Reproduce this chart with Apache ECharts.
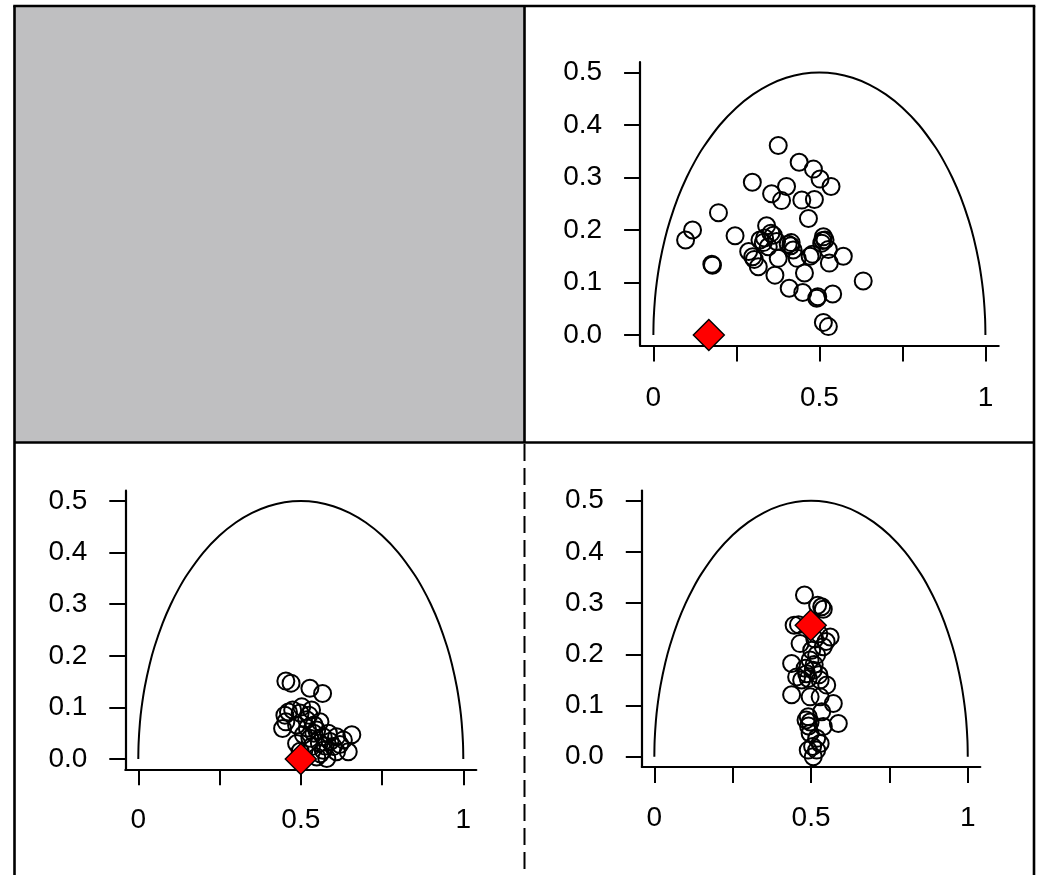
<!DOCTYPE html>
<html>
<head>
<meta charset="utf-8">
<script src="https://cdn.jsdelivr.net/npm/echarts@6/dist/echarts.min.js"></script>
<style>
html,body{margin:0;padding:0;background:#fff;}
#chart{width:1040px;height:875px;}
</style>
</head>
<body>
<div id="chart"></div>
<script>
// ---- tick values / labels ----
const xTickValues = [0, 0.25, 0.5, 0.75, 1];
const xLabelValues = [0, 0.5, 1];
const yTickValues = [0, 0.1, 0.2, 0.3, 0.4, 0.5];

// ---- boundary curve ----
const curveX = [0, 0.001, 0.005, 0.01, 0.02, 0.035, 0.05, 0.075, 0.1, 0.125, 0.15, 0.2, 0.25, 0.3, 0.35, 0.4, 0.45, 0.5,
                0.55, 0.6, 0.65, 0.7, 0.75, 0.8, 0.85, 0.875, 0.9, 0.925, 0.95, 0.965, 0.98, 0.99, 0.995, 0.999, 1];
const curveY = [0, 0.0316, 0.0705, 0.0995, 0.14, 0.1838, 0.2179, 0.2634, 0.3, 0.3307, 0.3571, 0.4, 0.433, 0.4583, 0.477, 0.4899, 0.4975, 0.5,
                0.4975, 0.4899, 0.477, 0.4583, 0.433, 0.4, 0.3571, 0.3307, 0.3, 0.2634, 0.2179, 0.1838, 0.14, 0.0995, 0.0705, 0.0316, 0];

// ---- top-right panel ----
const topRightX = [0.376,0.439,0.482,0.502,0.535,0.298,0.401,0.356,0.386,0.447,0.485,0.467,0.196,0.118,0.097,0.246,0.176,0.178,
  0.341,0.354,0.361,0.321,0.331,0.346,0.287,0.299,0.304,0.316,0.376,0.366,0.406,0.414,0.421,0.433,0.409,0.450,0.455,0.472,0.479,
  0.492,0.495,0.512,0.510,0.507,0.517,0.527,0.530,0.540,0.572,0.632,0.512,0.527,0.335,0.371,0.415];
const topRightY = [0.361,0.329,0.316,0.297,0.283,0.291,0.283,0.269,0.256,0.257,0.258,0.222,0.233,0.200,0.181,0.189,0.135,0.133,
  0.208,0.194,0.190,0.181,0.176,0.168,0.159,0.149,0.144,0.130,0.146,0.114,0.173,0.170,0.162,0.146,0.089,0.081,0.118,0.150,0.154,
  0.070,0.073,0.187,0.180,0.175,0.181,0.163,0.137,0.078,0.150,0.103,0.024,0.016,0.185,0.178,0.176];
const topRightMarker = [0.167, 0.0];

// ---- bottom-left panel ----
const bottomLeftX = [0.454,0.470,0.528,0.567,0.475,0.451,0.444,0.454,0.498,0.533,0.518,0.559,0.487,0.549,0.508,0.569,0.610,0.657,
  0.590,0.631,0.646,0.580,0.549,0.610,0.533,0.487,0.569,0.528,0.600,0.541,0.520,0.557,0.585,0.498,0.620,0.462,0.525,0.560,0.540,0.575,0.503];
const bottomLeftY = [0.151,0.147,0.137,0.127,0.095,0.085,0.059,0.072,0.089,0.095,0.076,0.072,0.066,0.056,0.047,0.043,0.043,0.047,
  0.034,0.037,0.014,0.001,0.004,0.014,0.024,0.030,0.017,0.040,0.024,0.066,0.060,0.031,0.050,0.015,0.028,0.091,0.085,0.010,0.050,0.025,0.101];
const bottomLeftMarker = [0.5, 0.0];

// ---- bottom-right panel ----
const bottomRightX = [0.479,0.521,0.539,0.534,0.446,0.561,0.548,0.539,0.465,0.502,0.518,0.497,0.438,0.481,0.507,0.454,0.470,0.529,
  0.550,0.491,0.438,0.497,0.529,0.571,0.534,0.491,0.497,0.484,0.587,0.539,0.497,0.518,0.529,0.491,0.507,0.518,0.460,0.525,0.510,
  0.525,0.486,0.512,0.492,0.505];
const bottomRightY = [0.316,0.296,0.288,0.293,0.257,0.234,0.225,0.215,0.221,0.208,0.199,0.189,0.182,0.173,0.169,0.156,0.150,0.150,
  0.140,0.153,0.121,0.117,0.117,0.104,0.088,0.078,0.068,0.072,0.065,0.059,0.046,0.036,0.026,0.013,0.000,0.013,0.258,0.240,0.180,
  0.160,0.162,0.230,0.060,0.020];
const bottomRightMarker = [0.499, 0.257];

// ---- build ----
const FONT = '"Liberation Sans", Arial, sans-serif';
const zip = (xs, ys) => xs.map((x, i) => [x, ys[i]]);
const curveData = zip(curveX, curveY);

const grids = [
  {left: 640.1, top: 62, width: 358.6, height: 283.5},
  {left: 125.3, top: 490.7, width: 351, height: 278.6},
  {left: 641.8, top: 490.5, width: 338.5, height: 276.5}
];
const xLabelMargins = [39, 37, 37];

function xAxisCfg(gi) {
  return {
    type: 'value', gridIndex: gi, min: -0.04, max: 1.04,
    splitLine: {show: false},
    axisLine: {show: true, onZero: false, lineStyle: {color: '#000', width: 2.2}},
    axisTick: {show: true, customValues: xTickValues, length: 16, lineStyle: {color: '#000', width: 2}},
    axisLabel: {customValues: xLabelValues, margin: xLabelMargins[gi], fontSize: 28, color: '#000', fontFamily: FONT,
      formatter: v => String(Math.round(v * 100) / 100)}
  };
}
function yAxisCfg(gi) {
  return {
    type: 'value', gridIndex: gi, min: -0.02, max: 0.52,
    splitLine: {show: false},
    axisLine: {show: true, onZero: false, lineStyle: {color: '#000', width: 2.2}},
    axisTick: {show: true, customValues: yTickValues, length: 16, lineStyle: {color: '#000', width: 2}},
    axisLabel: {customValues: yTickValues, margin: 38, fontSize: 28, color: '#000', fontFamily: FONT,
      formatter: v => v.toFixed(1)}
  };
}

const panels = [
  {pts: zip(topRightX, topRightY), mk: topRightMarker},
  {pts: zip(bottomLeftX, bottomLeftY), mk: bottomLeftMarker},
  {pts: zip(bottomRightX, bottomRightY), mk: bottomRightMarker}
];

const series = [];
panels.forEach((p, i) => {
  series.push({type: 'line', xAxisIndex: i, yAxisIndex: i, data: curveData, smooth: 0.3, showSymbol: false,
    lineStyle: {color: '#000', width: 2}, silent: true, z: 2});
  series.push({type: 'scatter', xAxisIndex: i, yAxisIndex: i, data: p.pts, symbol: 'circle', symbolSize: 17,
    itemStyle: {color: 'rgba(0,0,0,0)', borderColor: '#000', borderWidth: 2, opacity: 1}, silent: true, z: 3});
  series.push({type: 'scatter', xAxisIndex: i, yAxisIndex: i, data: [p.mk], symbol: 'diamond', symbolSize: 31,
    itemStyle: {color: '#ff0000', borderColor: '#000', borderWidth: 1.4, opacity: 1}, silent: true, z: 4});
});

const lineStyleSolid = {stroke: '#000', lineWidth: 2.6};
const graphic = [
  {type: 'rect', shape: {x: 14.5, y: 6, width: 510, height: 436.5}, style: {fill: '#bfbfc1'}, z: 0},
  {type: 'line', shape: {x1: 14.5, y1: 6, x2: 14.5, y2: 875}, style: lineStyleSolid, z: 10},
  {type: 'line', shape: {x1: 13.2, y1: 6, x2: 1035.3, y2: 6}, style: lineStyleSolid, z: 10},
  {type: 'line', shape: {x1: 1034, y1: 6, x2: 1034, y2: 875}, style: lineStyleSolid, z: 10},
  {type: 'line', shape: {x1: 14.5, y1: 442.5, x2: 1034, y2: 442.5}, style: lineStyleSolid, z: 10},
  {type: 'line', shape: {x1: 524.5, y1: 6, x2: 524.5, y2: 442.5}, style: lineStyleSolid, z: 10},
  {type: 'line', shape: {x1: 524.5, y1: 444, x2: 524.5, y2: 875}, style: {stroke: '#000', lineWidth: 2, lineDash: [17, 7]}, z: 10}
];

const chart = echarts.init(document.getElementById('chart'), null, {renderer: 'canvas'});
chart.setOption({
  animation: false,
  backgroundColor: '#fff',
  grid: grids,
  xAxis: [xAxisCfg(0), xAxisCfg(1), xAxisCfg(2)],
  yAxis: [yAxisCfg(0), yAxisCfg(1), yAxisCfg(2)],
  series: series,
  graphic: graphic
});
</script>
</body>
</html>
